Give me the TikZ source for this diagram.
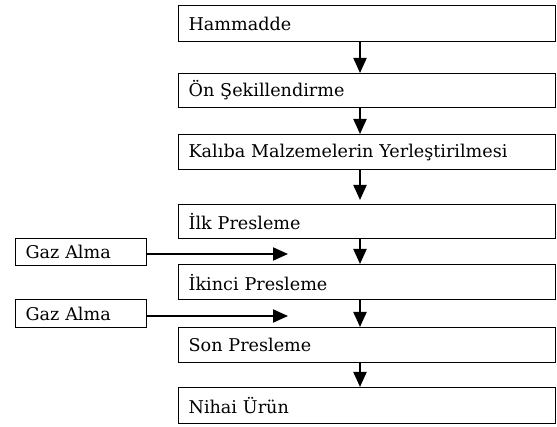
\documentclass[tikz,border=0pt]{standalone}
\usepackage{fontspec}
\setmainfont{DejaVu Serif}
\usetikzlibrary{arrows.meta}
\begin{document}
\begin{tikzpicture}[x=1pt,y=-1pt,
  mainbox/.style={draw, line width=1.2pt, anchor=north west, inner xsep=10pt, inner ysep=0pt,
    text width=357pt, align=left, minimum height=#1, font=\fontsize{17.6}{20}\selectfont},
  gazbox/.style={draw, line width=1.2pt, anchor=north west, inner xsep=10pt, inner ysep=0pt,
    text width=111pt, align=left, minimum height=#1, font=\fontsize{17.6}{20}\selectfont},
  arr/.style={line width=2pt, -{Triangle[length=15pt,width=13pt]}}
]
\useasboundingbox (0,0) rectangle (557,427);
\node[mainbox=36pt] (h) at (178,5) {Hammadde};
\node[mainbox=34pt] (o) at (178,73) {Ön Şekillendirme};
\node[mainbox=35pt] (k) at (178,134) {Kalıba Malzemelerin Yerleştirilmesi};
\node[mainbox=34pt] (i1) at (178,204) {İlk Presleme};
\node[mainbox=35pt] (i2) at (178,264) {İkinci Presleme};
\node[mainbox=35pt] (s) at (178,327) {Son Presleme};
\node[mainbox=36pt] (n) at (178,387) {Nihai Ürün};
\node[gazbox=27pt] (g1) at (15,238) {Gaz Alma};
\node[gazbox=28pt] (g2) at (15,299) {Gaz Alma};
\coordinate (ax) at (360,0);
\coordinate (g1e) at (288,254);
\coordinate (g2e) at (288,316);
\draw[arr] (h.south -| ax) -- (o.north -| ax);
\draw[arr] (o.south -| ax) -- (k.north -| ax);
\draw[arr, shorten >=4pt] (k.south -| ax) -- (i1.north -| ax);
\draw[arr] (i1.south -| ax) -- (i2.north -| ax);
\draw[arr] (i2.south -| ax) -- (s.north -| ax);
\draw[arr] (s.south -| ax) -- (n.north -| ax);
\draw[arr] (g1e -| g1.east) -- (g1e);
\draw[arr] (g2e -| g2.east) -- (g2e);
\end{tikzpicture}
\end{document}
